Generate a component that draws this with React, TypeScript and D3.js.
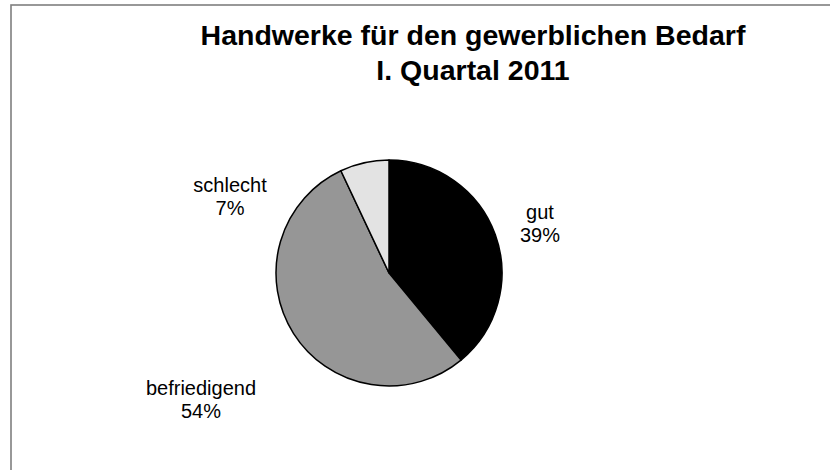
import { useMemo } from 'react'
import * as d3 from 'd3'

const TITLE_LINES = ['Handwerke für den gewerblichen Bedarf', 'I. Quartal 2011']
const CATEGORIES = ['gut', 'befriedigend', 'schlecht']
const VALUES = [39, 54, 7]
const COLORS = ['#000000', '#969696', '#e3e3e3']

const W = 830
const H = 470
const CX = 389
const CY = 273
const R = 113
const TITLE_X = 473
// Excel "best fit" label anchors, as offsets from the pie centre
const LABEL_OFFSETS: [number, number][] = [
  [151, -54],
  [-188, 122],
  [-159, -81],
]

export default function App() {
  const arcs = useMemo(() => {
    const pie = d3.pie<number>().sort(null).value((d) => d)
    return pie(VALUES)
  }, [])
  const arcGen = d3.arc<d3.PieArcDatum<number>>().innerRadius(0).outerRadius(R)

  return (
    <svg
      width={W}
      height={H}
      style={{ position: 'absolute', left: 0, top: 0, background: '#fff' }}
      fontFamily="'Liberation Sans', Arial, sans-serif"
    >
      <rect x={11} y={5} width={W} height={H} fill="#fff" stroke="#7f7f7f" strokeWidth={1.6} />

      <text x={TITLE_X} y={45} textAnchor="middle" fontSize={28.5} fontWeight="bold" fill="#000">
        {TITLE_LINES.map((t, i) => (
          <tspan key={i} x={TITLE_X} dy={i === 0 ? 0 : 35}>{t}</tspan>
        ))}
      </text>

      <g transform={`translate(${CX},${CY})`}>
        {arcs.map((a, i) => (
          <path key={CATEGORIES[i]} d={arcGen(a) ?? ''} fill={COLORS[i]} stroke="#000" strokeWidth={1.5} strokeLinejoin="round" />
        ))}
        {arcs.map((a, i) => {
          const [dx, dy] = LABEL_OFFSETS[i]
          return (
            <text key={'l' + i} x={dx} y={dy} textAnchor="middle" fontSize={20} fill="#000">
              <tspan x={dx}>{CATEGORIES[i]}</tspan>
              <tspan x={dx} dy={23}>{`${a.data}%`}</tspan>
            </text>
          )
        })}
      </g>
    </svg>
  )
}
